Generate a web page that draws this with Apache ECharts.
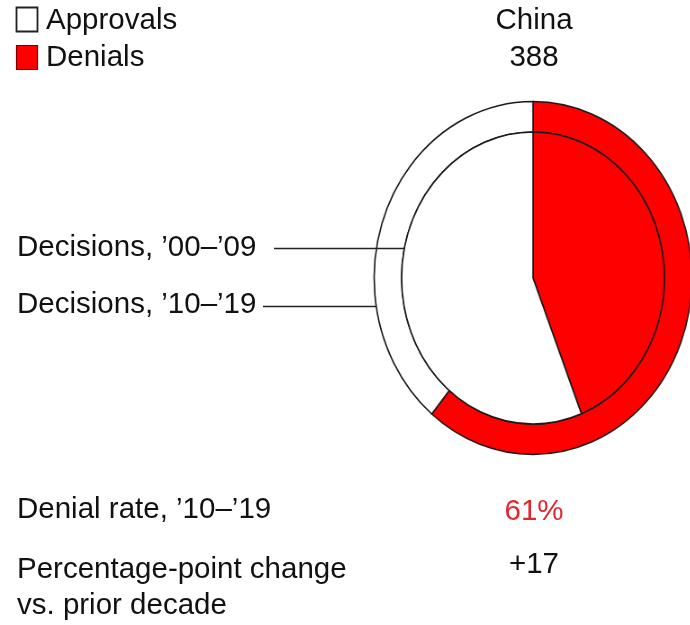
<!DOCTYPE html>
<html>
<head>
<meta charset="utf-8">
<script src="https://cdn.jsdelivr.net/npm/echarts@6/dist/echarts.min.js"></script>
<style>
  html, body { margin: 0; padding: 0; background: #fff; overflow: hidden; }
  #wrap { position: relative; width: 690px; height: 625px; overflow: hidden; }
  #pie { position: absolute; left: 0; top: 0; width: 800px; height: 625px;
         transform-origin: 533px 278px; transform: scaleX(0.9); }
  #txt { position: absolute; left: 0; top: 0; width: 690px; height: 625px; }
</style>
</head>
<body>
<div id="wrap">
  <div id="pie"></div>
  <div id="txt"></div>
</div>
<script>
// ---- data ----
const categories = ['Denials', 'Approvals'];
const share0009 = [44, 56];   // decisions '00–'09 (%)
const share1019 = [61, 39];   // decisions '10–'19 (%)
const countryName = 'China';
const totalDecisions = 388;
const denialRate1019 = '61%';
const ppChange = '+17';
const legendLabels = ['Approvals', 'Denials'];
const rowLabels = ['Decisions, ’00–’09', 'Decisions, ’10–’19', 'Denial rate, ’10–’19', 'Percentage-point change\nvs. prior decade'];

const RED = '#ff0000';
const colorOf = { Denials: RED, Approvals: '#ffffff' };
const FONT = '"Liberation Sans", Arial, Helvetica, sans-serif';
const INK = '#111111';

// ---- pie (ellipse via CSS scaleX) ----
const pieChart = echarts.init(document.getElementById('pie'), null, { renderer: 'canvas' });
const mk = arr => categories.map((c, i) => ({ name: c, value: arr[i], itemStyle: { color: colorOf[c] } }));
pieChart.setOption({
  animation: false,
  series: [
    {
      type: 'pie', center: [533, 278], radius: [146, 176.5],
      startAngle: 90, clockwise: true, silent: true,
      label: { show: false }, labelLine: { show: false },
      itemStyle: { borderColor: '#1a1a1a', borderWidth: 1.6 },
      data: mk(share1019)
    },
    {
      type: 'pie', center: [533, 278], radius: [0, 146],
      startAngle: 90, clockwise: true, silent: true,
      label: { show: false }, labelLine: { show: false },
      itemStyle: { borderColor: '#1a1a1a', borderWidth: 1.6 },
      data: mk(share0009)
    }
  ]
});

// ---- text & annotations ----
const txtChart = echarts.init(document.getElementById('txt'), null, { renderer: 'canvas' });
const T = (x, y, text, opts = {}) => ({
  type: 'text', x, y, silent: true,
  style: Object.assign({ text, fill: INK, font: '29.5px ' + FONT, textAlign: 'left', textVerticalAlign: 'middle' }, opts)
});
txtChart.setOption({
  animation: false,
  graphic: [
    // legend
    { type: 'rect', shape: { x: 16.5, y: 7.5, width: 21, height: 24 }, style: { fill: '#fff', stroke: '#222', lineWidth: 1.8 }, silent: true },
    T(46, 21, legendLabels[0]),
    { type: 'rect', shape: { x: 16.5, y: 45.5, width: 21, height: 24 }, style: { fill: RED, stroke: '#7a0000', lineWidth: 1.2 }, silent: true },
    T(46, 58, legendLabels[1]),
    // header
    T(534, 21, countryName, { textAlign: 'center' }),
    T(534, 58, String(totalDecisions), { textAlign: 'center' }),
    // ring labels
    T(17, 248, rowLabels[0]),
    { type: 'line', shape: { x1: 274, y1: 248.5, x2: 405, y2: 248.5 }, style: { stroke: '#222', lineWidth: 1.6 }, silent: true },
    T(17, 305, rowLabels[1]),
    { type: 'line', shape: { x1: 263, y1: 306.5, x2: 376, y2: 306.5 }, style: { stroke: '#222', lineWidth: 1.6 }, silent: true },
    // bottom rows
    T(17, 510, rowLabels[2]),
    T(534, 512, denialRate1019, { textAlign: 'center', fill: '#e3262e' }),
    T(17, 588, rowLabels[3], { lineHeight: 36 }),
    T(534, 565, ppChange, { textAlign: 'center' })
  ]
});
</script>
</body>
</html>
